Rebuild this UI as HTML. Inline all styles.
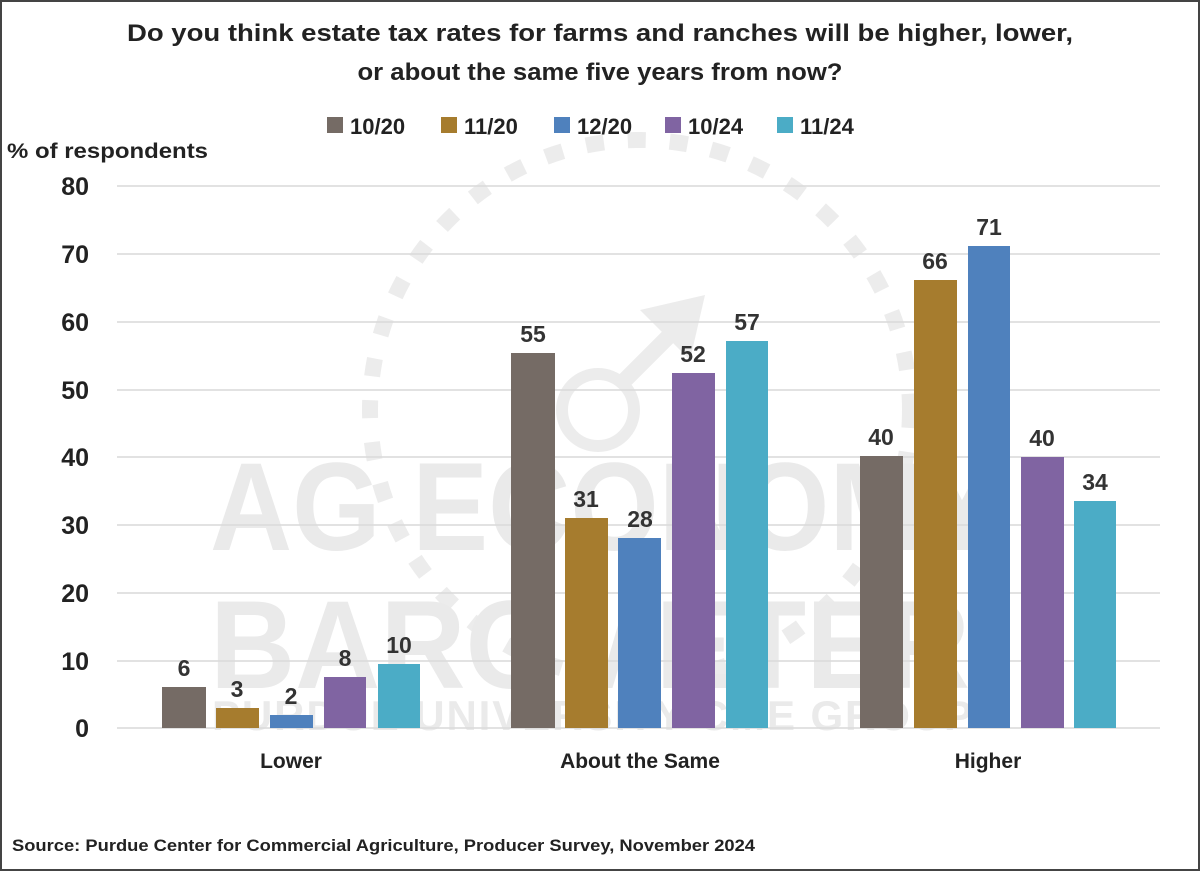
<!DOCTYPE html>
<html><head><style>body{margin:0;background:#fff}svg{display:block;font-family:"Liberation Sans",sans-serif;font-weight:bold}</style></head><body>
<svg width="1200" height="871" viewBox="0 0 1200 871">
<rect x="1" y="1" width="1198" height="869" fill="#fff" stroke="#444" stroke-width="2"/>
<g opacity="0.75">
<circle cx="640" cy="410" r="270" fill="none" stroke="#e6e6e6" stroke-width="16" stroke-dasharray="18 24"/>
<circle cx="598" cy="410" r="36" fill="none" stroke="#e6e6e6" stroke-width="12"/>
<line x1="620" y1="385" x2="685" y2="320" stroke="#e6e6e6" stroke-width="16"/>
<polygon points="640,310 705,295 690,360" fill="#e6e6e6"/>
<text x="210" y="550" font-size="125" fill="#e3e3e3" textLength="790" lengthAdjust="spacingAndGlyphs">AG ECONOMY</text>
<text x="210" y="688" font-size="125" fill="#e3e3e3" textLength="760" lengthAdjust="spacingAndGlyphs">BAROMETER</text>
<text x="212" y="730" font-size="42" fill="#e3e3e3" textLength="760" lengthAdjust="spacing">PURDUE UNIVERSITY CME GROUP</text>
</g>
<g font-size="24" fill="#222" text-anchor="middle">
<text x="600" y="41" textLength="946" lengthAdjust="spacingAndGlyphs">Do you think estate tax rates for farms and ranches will be higher, lower,</text>
<text x="600" y="80" textLength="485" lengthAdjust="spacingAndGlyphs">or about the same five years from now?</text>
</g>
<g font-size="22" fill="#222">
<rect x="327" y="117" width="16" height="16" fill="#756b65"/><text x="350" y="134">10/20</text>
<rect x="441" y="117" width="16" height="16" fill="#a67c2e"/><text x="464" y="134">11/20</text>
<rect x="554" y="117" width="16" height="16" fill="#4f81bd"/><text x="577" y="134">12/20</text>
<rect x="665" y="117" width="16" height="16" fill="#8064a2"/><text x="688" y="134">10/24</text>
<rect x="777" y="117" width="16" height="16" fill="#4bacc6"/><text x="800" y="134">11/24</text>
</g>
<text x="7" y="158" font-size="21" fill="#222" textLength="201" lengthAdjust="spacingAndGlyphs">% of respondents</text>
<g stroke="#d9d9d9" stroke-width="1.5">
<line x1="117" y1="186" x2="1160" y2="186"/><line x1="117" y1="254" x2="1160" y2="254"/><line x1="117" y1="322" x2="1160" y2="322"/><line x1="117" y1="390" x2="1160" y2="390"/><line x1="117" y1="457" x2="1160" y2="457"/><line x1="117" y1="525" x2="1160" y2="525"/><line x1="117" y1="593" x2="1160" y2="593"/><line x1="117" y1="661" x2="1160" y2="661"/><line x1="117" y1="728" x2="1160" y2="728"/>
</g>
<g font-size="25" fill="#222" text-anchor="end">
<text x="89" y="195">80</text><text x="89" y="263">70</text><text x="89" y="331">60</text><text x="89" y="399">50</text><text x="89" y="466">40</text><text x="89" y="534">30</text><text x="89" y="602">20</text><text x="89" y="670">10</text><text x="89" y="737">0</text>
</g>
<g>
<rect x="162" y="687" width="44" height="41" fill="#756b65"/>
<rect x="216" y="708" width="43" height="20" fill="#a67c2e"/>
<rect x="270" y="715" width="43" height="13" fill="#4f81bd"/>
<rect x="324" y="677" width="42" height="51" fill="#8064a2"/>
<rect x="378" y="664" width="42" height="64" fill="#4bacc6"/>
<rect x="511" y="353" width="44" height="375" fill="#756b65"/>
<rect x="565" y="518" width="43" height="210" fill="#a67c2e"/>
<rect x="618" y="538" width="43" height="190" fill="#4f81bd"/>
<rect x="672" y="373" width="43" height="355" fill="#8064a2"/>
<rect x="726" y="341" width="42" height="387" fill="#4bacc6"/>
<rect x="860" y="456" width="43" height="272" fill="#756b65"/>
<rect x="914" y="280" width="43" height="448" fill="#a67c2e"/>
<rect x="968" y="246" width="42" height="482" fill="#4f81bd"/>
<rect x="1021" y="457" width="43" height="271" fill="#8064a2"/>
<rect x="1074" y="501" width="42" height="227" fill="#4bacc6"/>
</g>
<g font-size="23" fill="#333" text-anchor="middle">
<text x="184" y="676">6</text><text x="237" y="697">3</text><text x="291" y="704">2</text><text x="345" y="666">8</text><text x="399" y="653">10</text>
<text x="533" y="342">55</text><text x="586" y="507">31</text><text x="640" y="527">28</text><text x="693" y="362">52</text><text x="747" y="330">57</text>
<text x="881" y="445">40</text><text x="935" y="269">66</text><text x="989" y="235">71</text><text x="1042" y="446">40</text><text x="1095" y="490">34</text>
</g>
<g font-size="21" fill="#222" text-anchor="middle">
<text x="291" y="768">Lower</text><text x="640" y="768">About the Same</text><text x="988" y="768">Higher</text>
</g>
<text x="12" y="851" font-size="17" fill="#222" textLength="743" lengthAdjust="spacingAndGlyphs">Source: Purdue Center for Commercial Agriculture, Producer Survey, November 2024</text>
</svg>
</body></html>
